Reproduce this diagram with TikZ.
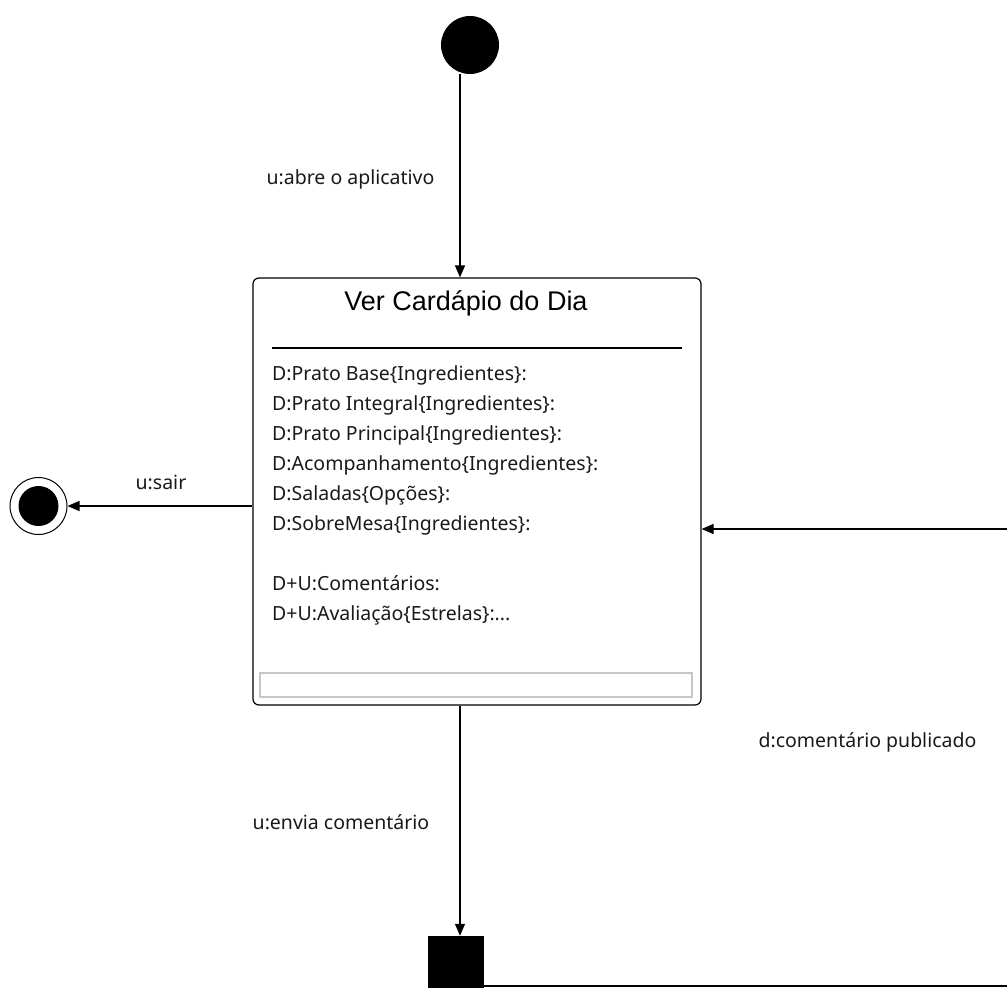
\documentclass[tikz,border=0pt]{standalone}
\usepackage{fontspec}
\setmainfont{Noto Sans}
\newfontfamily\titlefont{Liberation Sans}
\usetikzlibrary{positioning}
\usetikzlibrary{arrows.meta}

\begin{document}
\begin{tikzpicture}[x=1pt,y=-1pt,
  trans/.style={-{Triangle[length=12pt,width=10pt]},line width=1.4pt},
  lbl/.style={font=\fontsize{19.5}{22}\selectfont,text=black!90},
  attr/.style={font=\fontsize{19.5}{22}\selectfont,anchor=base west,inner sep=0pt,text=black!90}]
\useasboundingbox (0,0) rectangle (1007,988);
\clip (0,0) rectangle (1007,988);
\node[circle,fill,minimum size=58pt,inner sep=0pt](ini) at (470,45){};
\node[draw,rounded corners=6pt,line width=1.2pt,minimum width=448pt,minimum height=427pt,inner sep=0pt](ver) at (477,491.5){};
\node[font=\titlefont\fontsize{27}{30}\selectfont](titulo) at (466,303){Ver Card\'apio do Dia};
\draw[line width=2.5pt] (272,348) -- (682,348);
\node[attr](a1) at (272,380){D:Prato Base\{Ingredientes\}:};
\node[attr](a2) at (272,410){D:Prato Integral\{Ingredientes\}:};
\node[attr](a3) at (272,440){D:Prato Principal\{Ingredientes\}:};
\node[attr](a4) at (272,470){D:Acompanhamento\{Ingredientes\}:};
\node[attr](a5) at (272,500){D:Saladas\{Opções\}:};
\node[attr](a6) at (272,530){D:SobreMesa\{Ingredientes\}:};
\node[attr](a7) at (272,590){D+U:Comentários:};
\node[attr](a8) at (272,620){D+U:Avaliação\{Estrelas\}:...};
\draw[gray!45,line width=1.2pt] (260,673) rectangle (692,697);
\node[circle,draw,line width=1pt,minimum size=57pt,inner sep=0pt](fim) at (38.5,506){};
\node[circle,fill,minimum size=40pt,inner sep=0pt](fimint) at (fim){};
\node[fill,minimum width=56pt,minimum height=56pt,inner sep=0pt](sinc) at (456,964){};
\coordinate (x) at (460,0);
\coordinate (dir) at (1020,529);
\coordinate (canto) at (1020,986);
\draw[trans] (ini.south -| x) -- (ver.north -| x);
\draw[trans] (ver.west |- fim) -- (fim.east);
\draw[trans] (ver.south -| x) -- (sinc.north -| x);
\draw[trans] (sinc.east |- canto) -- (canto) -- (dir) -- (ver.east |- dir);
\node[lbl](l1) at (350.5,179){u:abre o aplicativo};
\node[lbl](l2) at (161,482){u:sair};
\node[lbl](l3) at (341,822){u:envia comentário};
\node[lbl](l4) at (867.5,742){d:comentário publicado};
\end{tikzpicture}
\end{document}
